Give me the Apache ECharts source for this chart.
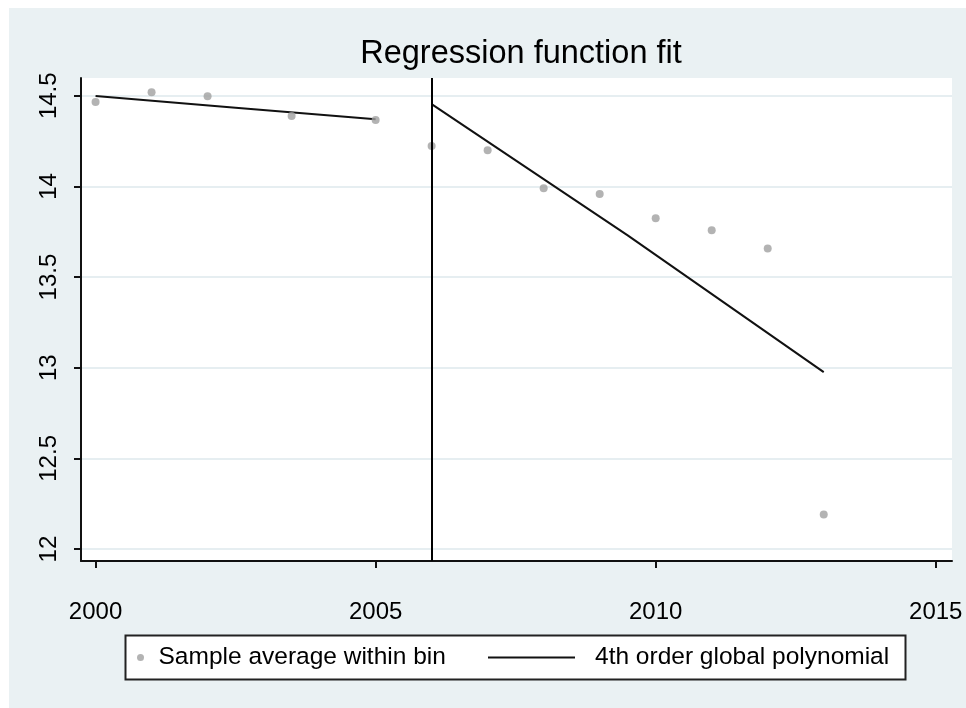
<!DOCTYPE html>
<html>
<head>
<meta charset="utf-8">
<script src="https://cdn.jsdelivr.net/npm/echarts@6/dist/echarts.min.js"></script>
<style>
html,body{margin:0;padding:0;background:#fff;}
#bg{position:absolute;left:9px;top:8px;width:957px;height:700px;background:#eaf1f3;}
#c{position:absolute;left:0;top:0;width:966px;height:708px;}
</style>
</head>
<body>
<div id="bg"></div>
<div id="c"></div>
<script>
// Bin averages
const binX = [2000, 2001, 2002, 2003.5, 2005, 2006, 2007, 2008, 2009, 2010, 2011, 2012, 2013];
const binY = [14.465, 14.52, 14.498, 14.388, 14.366, 14.223, 14.2, 13.99, 13.958, 13.825, 13.758, 13.658, 12.19];
// Fitted polynomial, left and right of the cutoff
const polyLeftX = [2000, 2002.5, 2005];
const polyLeftY = [14.499, 14.434, 14.37];
const polyRightX = [2006, 2009.5, 2013];
const polyRightY = [14.454, 13.73, 12.976];
const cutoff = 2006;
const xTicks = [2000, 2005, 2010, 2015];
const yTicks = [12, 12.5, 13, 13.5, 14, 14.5];
const titleText = 'Regression function fit';
const nameBins = 'Sample average within bin';
const namePoly = '4th order global polynomial';

const FONT = '"Liberation Sans", Arial, sans-serif';
const zip = (xs, ys) => xs.map((x, i) => [x, ys[i]]);

const chart = echarts.init(document.getElementById('c'));
chart.setOption({
  backgroundColor: 'transparent',
  animation: false,
  title: {
    text: titleText,
    left: 516,
    textAlign: 'center',
    top: 33,
    textStyle: {fontFamily: FONT, fontSize: 32.5, fontWeight: 'normal', color: '#000'}
  },
  grid: {
    left: 81, right: 14, top: 78, bottom: 147,
    show: true, backgroundColor: '#fff', borderWidth: 0
  },
  graphic: [{
    type: 'rect',
    shape: {x: 125.5, y: 635.5, width: 780, height: 44},
    style: {fill: '#fff', stroke: '#222', lineWidth: 2},
    z: 0
  }],
  legend: [{
    data: [nameBins],
    left: 137, top: 645, padding: 0,
    itemWidth: 26, itemHeight: 7,
    textStyle: {fontFamily: FONT, fontSize: 24.5, color: '#000'},
    z: 5
  }, {
    data: [{name: namePoly, icon: 'rect'}],
    left: 488, top: 645, padding: 0,
    itemWidth: 87, itemHeight: 2,
    textStyle: {fontFamily: FONT, fontSize: 24.5, color: '#000', padding: [0, 0, 0, 15]},
    z: 5
  }],
  xAxis: {
    type: 'value',
    min: 1999.74, max: 2015.29,
    axisLine: {show: true, onZero: false, lineStyle: {color: '#111', width: 2}},
    axisTick: {show: true, length: 7, customValues: xTicks, lineStyle: {color: '#111', width: 2}},
    axisLabel: {
      customValues: xTicks, margin: 39,
      fontFamily: FONT, fontSize: 24, color: '#000',
      formatter: v => String(v)
    },
    splitLine: {show: false}
  },
  yAxis: {
    type: 'value',
    min: 11.934, max: 14.598,
    axisLine: {show: true, onZero: false, lineStyle: {color: '#111', width: 2}},
    axisTick: {show: true, length: 7, customValues: yTicks, lineStyle: {color: '#111', width: 2}},
    axisLabel: {
      customValues: yTicks, margin: 20, rotate: 90,
      fontFamily: FONT, fontSize: 24, color: '#000',
      formatter: v => String(v)
    },
    splitLine: {show: true, lineStyle: {color: '#e6eef1', width: 2}}
  },
  series: [{
    name: nameBins,
    type: 'scatter',
    data: zip(binX, binY),
    symbol: 'circle',
    symbolSize: 8,
    itemStyle: {color: '#a0a0a0'},
    z: 3
  }, {
    name: namePoly,
    type: 'line',
    data: zip(polyLeftX, polyLeftY),
    symbol: 'none',
    lineStyle: {color: '#111', width: 2},
    itemStyle: {color: '#111'},
    z: 2
  }, {
    name: namePoly,
    type: 'line',
    data: zip(polyRightX, polyRightY),
    symbol: 'none',
    lineStyle: {color: '#111', width: 2},
    itemStyle: {color: '#111'},
    z: 2,
    markLine: {
      silent: true,
      symbol: ['none', 'none'],
      label: {show: false},
      lineStyle: {color: '#000', width: 2, type: 'solid'},
      data: [{xAxis: cutoff}]
    }
  }]
});
</script>
</body>
</html>
